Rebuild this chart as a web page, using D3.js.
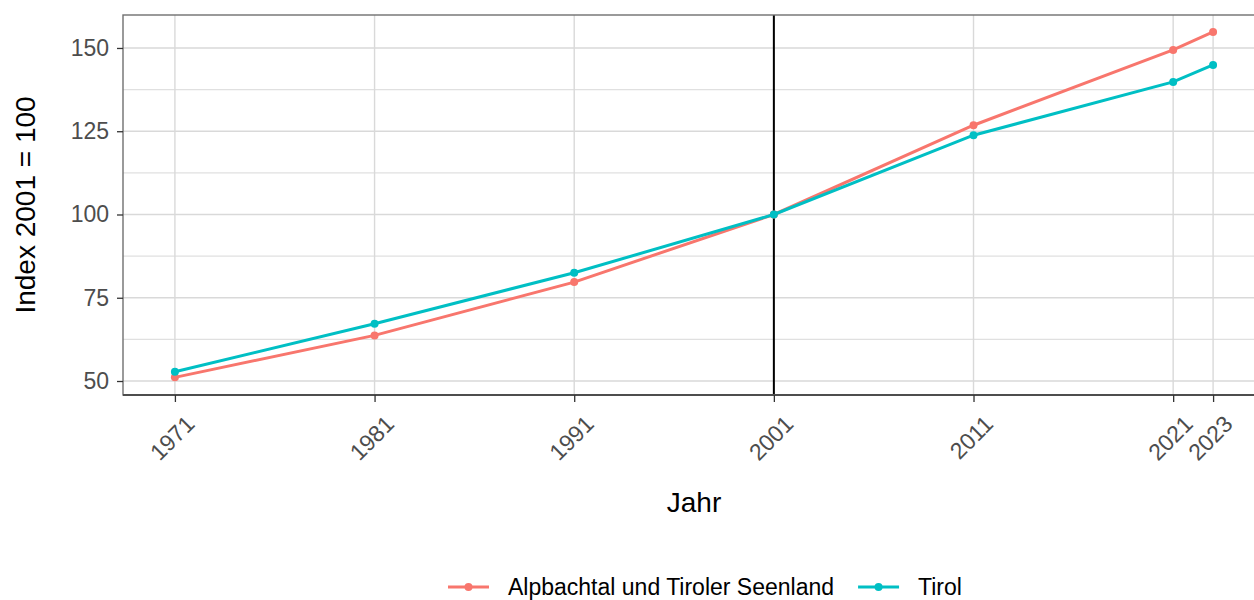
<!DOCTYPE html>
<html>
<meta charset="utf-8">
<script src="https://cdn.jsdelivr.net/npm/d3@7"></script>
<title>Index 2001 = 100</title>
<style>
body { margin: 0; background: #fff; }
text { font-family: "Liberation Sans", Arial, sans-serif; }
</style>
<body>
<script type="text/javascript">

// data
var years = [1971, 1981, 1991, 2001, 2011, 2021, 2023];
var alpbachtal = [51.1, 63.7, 79.7, 100, 126.8, 149.4, 154.8];
var tirol      = [52.8, 67.2, 82.5, 100, 123.8, 139.8, 144.9];
var seriesNames = ["Alpbachtal und Tiroler Seenland", "Tirol"];
var seriesColors = ["#F8766D", "#00BFC4"];
var yTicks = [50, 75, 100, 125, 150];
var yMinor = [62.5, 87.5, 112.5, 137.5];
var refYear = 2001;

var size = { width : 1254, height : 600 };
var panel = { left : 123, top : 15, right : 1265, bottom : 395 };

var xScale = d3.scaleLinear()
    .domain([1968.4, 2025.6])
    .range([panel.left, panel.right]);
var yScale = d3.scaleLinear()
    .domain([45.8, 159.9])
    .range([panel.bottom, panel.top]);

var svg = d3.select("body")
    .append("svg")
    .attr("width", size.width)
    .attr("height", size.height);

var series = [alpbachtal, tirol].map(function(vals, i){
    return {
        name : seriesNames[i],
        color : seriesColors[i],
        values : years.map(function(y, j){ return {year: y, value: vals[j]}; })
    };
});

// grid
var grid = svg.append("g");
grid.selectAll(".minor")
    .data(yMinor)
    .enter().append("line")
    .attr("x1", panel.left).attr("x2", panel.right)
    .attr("y1", function(d){ return yScale(d); })
    .attr("y2", function(d){ return yScale(d); })
    .style("stroke", "#e0e0e0").style("stroke-width", 1.1);
grid.selectAll(".major")
    .data(yTicks)
    .enter().append("line")
    .attr("x1", panel.left).attr("x2", panel.right)
    .attr("y1", function(d){ return yScale(d); })
    .attr("y2", function(d){ return yScale(d); })
    .style("stroke", "#d9d9d9").style("stroke-width", 1.4);
grid.selectAll(".vx")
    .data(years)
    .enter().append("line")
    .attr("y1", panel.top).attr("y2", panel.bottom)
    .attr("x1", function(d){ return xScale(d); })
    .attr("x2", function(d){ return xScale(d); })
    .style("stroke", "#d9d9d9").style("stroke-width", 1.4);

// reference line at 2001
svg.append("line")
    .attr("x1", xScale(refYear)).attr("x2", xScale(refYear))
    .attr("y1", panel.top).attr("y2", panel.bottom)
    .style("stroke", "#000").style("stroke-width", 2);

// lines and points
var line = d3.line()
    .x(function(d){ return xScale(d.year); })
    .y(function(d){ return yScale(d.value); });

var graph = svg.selectAll(".graph")
    .data(series)
    .enter().append("g")
    .attr("class", "graph");

graph.append("path")
    .attr("d", function(d){ return line(d.values); })
    .style("fill", "none")
    .style("stroke", function(d){ return d.color; })
    .style("stroke-width", 3);

graph.selectAll("circle")
    .data(function(d){ return d.values.map(function(v){ return {v: v, c: d.color}; }); })
    .enter().append("circle")
    .attr("cx", function(d){ return xScale(d.v.year); })
    .attr("cy", function(d){ return yScale(d.v.value); })
    .attr("r", 4)
    .style("fill", function(d){ return d.c; });

// panel border
svg.append("rect")
    .attr("x", panel.left).attr("y", panel.top)
    .attr("width", panel.right - panel.left)
    .attr("height", panel.bottom - panel.top)
    .style("fill", "none")
    .style("stroke", "#707070").style("stroke-width", 1.4);
svg.append("line")
    .attr("x1", panel.left).attr("x2", panel.right)
    .attr("y1", panel.bottom).attr("y2", panel.bottom)
    .style("stroke", "#4d4d4d").style("stroke-width", 2.2);

// axes
var yAxis = svg.append("g")
    .attr("transform", "translate(" + panel.left + ",0)")
    .call(d3.axisLeft(yScale).tickValues(yTicks).tickSize(6).tickPadding(8));
yAxis.select(".domain").remove();
yAxis.selectAll("line").style("stroke", "#333").style("stroke-width", 1.3);
yAxis.selectAll("text")
    .style("font-size", "23px")
    .style("fill", "#4d4d4d");

var xAxis = svg.append("g")
    .attr("transform", "translate(0," + panel.bottom + ")")
    .call(d3.axisBottom(xScale).tickValues(years).tickFormat(d3.format("d")).tickSize(7));
xAxis.select(".domain").remove();
xAxis.selectAll("line").style("stroke", "#333").style("stroke-width", 1.3);
xAxis.selectAll("text")
    .style("font-size", "23px")
    .style("fill", "#4d4d4d")
    .style("text-anchor", "end")
    .attr("x", 0)
    .attr("y", 0)
    .attr("dy", "0.71em")
    .attr("transform", "translate(9,19) rotate(-45)");

// axis titles
svg.append("text")
    .attr("x", (panel.left + panel.right) / 2)
    .attr("y", 512)
    .attr("text-anchor", "middle")
    .style("font-size", "28px")
    .style("fill", "#000")
    .text("Jahr");

svg.append("text")
    .attr("transform", "translate(35," + ((panel.top + panel.bottom) / 2) + ") rotate(-90)")
    .attr("text-anchor", "middle")
    .style("font-size", "28px")
    .style("fill", "#000")
    .text("Index 2001 = 100");

// legend
var legend = svg.append("g").attr("transform", "translate(448,587)");
var lx = 0;
series.forEach(function(s, i){
    var g = legend.append("g").attr("transform", "translate(" + lx + ",0)");
    g.append("line")
        .attr("x1", 0).attr("x2", 41)
        .style("stroke", s.color).style("stroke-width", 3);
    g.append("circle")
        .attr("cx", 20.5).attr("r", 4)
        .style("fill", s.color);
    var t = g.append("text")
        .attr("x", 60)
        .attr("dy", "0.35em")
        .style("font-size", "23px")
        .style("fill", "#000")
        .text(s.name);
    lx += 60 + t.node().getComputedTextLength() + 24;
});
</script>
</body>
</html>
